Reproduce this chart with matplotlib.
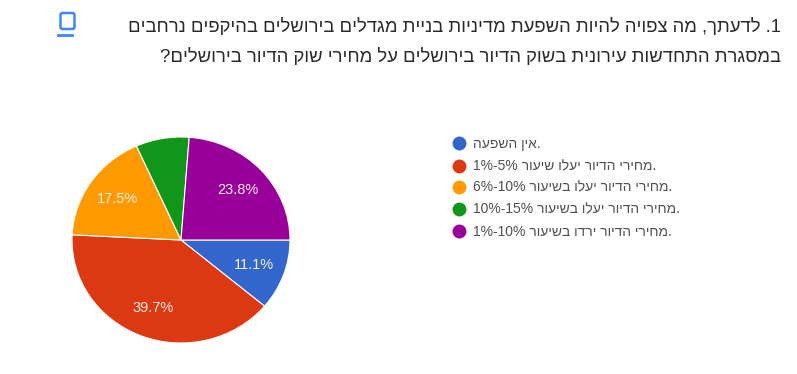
import re
import matplotlib
matplotlib.use('Agg')
import matplotlib.pyplot as plt
from matplotlib.patches import FancyBboxPatch

title_lines = ["1. לדעתך, מה צפויה להיות השפעת מדיניות בניית מגדלים בירושלים בהיקפים נרחבים",
               "במסגרת התחדשות עירונית בשוק הדיור בירושלים על מחירי שוק הדיור בירושלים?"]
categories = ["אין השפעה", "מחירי הדיור יעלו שיעור", "מחירי הדיור יעלו בשיעור",
              "מחירי הדיור יעלו בשיעור", "מחירי הדיור ירדו בשיעור"]
ranges = ["", "1%-5%", "6%-10%", "10%-15%", "1%-10%"]
values = [11.1, 39.7, 17.5, 7.9, 23.8]
colors = ['#3366cc', '#dc3912', '#ff9900', '#109618', '#990099']


def visual(s):
    # matplotlib has no bidi, so flip the string but keep digit runs readable
    return re.sub(r'\d+', lambda m: m.group()[::-1], s[::-1])


plt.rcParams['font.family'] = ['Liberation Sans', 'DejaVu Sans']

fig = plt.figure(figsize=(7.97, 3.74), dpi=100)
ax = fig.add_axes([0, 0, 1, 1])
ax.set_xlim(0, 797)
ax.set_ylim(0, 374)
ax.axis('off')

# the pie is a bit squashed in the reference, so it gets its own axes
pie_ax = fig.add_axes([72 / 797, 31 / 374, 218 / 797, 206 / 374])
wedges, texts, autotexts = pie_ax.pie(values, colors=colors, startangle=0, counterclock=False,
                                      radius=1, pctdistance=0.71,
                                      autopct=lambda p: f'{p:.1f}%' if p > 10 else '',
                                      wedgeprops={'edgecolor': 'white', 'linewidth': 0.8},
                                      textprops={'color': '#fbeee8', 'fontsize': 10.5})
pie_ax.set_xlim(-1, 1)
pie_ax.set_ylim(-1, 1)
pie_ax.set_aspect('auto')

ax.text(781, 347, visual(title_lines[0]), ha='right', va='center', fontsize=13.3, color='#2a2a2a')
ax.text(781, 317, visual(title_lines[1]), ha='right', va='center', fontsize=13.3, color='#2a2a2a')

# icon next to the question
ax.add_patch(FancyBboxPatch((60.5, 345), 14, 16, boxstyle='round,pad=0,rounding_size=2',
                            fill=False, edgecolor='#4285f4', linewidth=1.8))
ax.plot([58.5, 72], [339.5, 339.5], color='#4285f4', linewidth=2)

legend_y = [143, 165, 187, 208, 231]
for y, cat, rng, c in zip(legend_y[::-1], categories, ranges, colors):
    ax.scatter([459], [y], s=100, color=c, linewidths=0)
    label = (rng + ' ' if rng else '') + cat[::-1] + '.'
    ax.text(473, y - 0.5, label, ha='left', va='center', fontsize=10, color='#505050')

fig.savefig('out.png', dpi=100)
